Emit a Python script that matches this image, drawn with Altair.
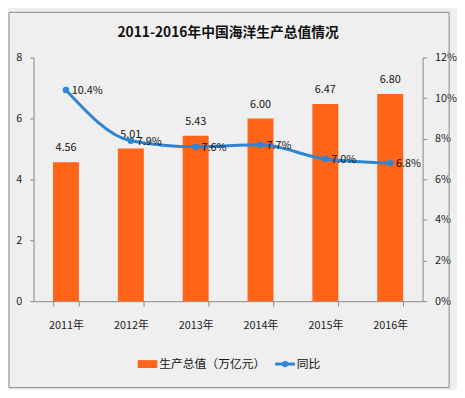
import altair as alt
import pandas as pd

years = ["2011年", "2012年", "2013年", "2014年", "2015年", "2016年"]
output = [4.56, 5.01, 5.43, 6.00, 6.47, 6.80]
growth = [10.4, 7.9, 7.6, 7.7, 7.0, 6.8]
output_labels = ["4.56", "5.01", "5.43", "6.00", "6.47", "6.80"]
growth_labels = ["10.4%", "7.9%", "7.6%", "7.7%", "7.0%", "6.8%"]

df = pd.DataFrame({
    "year": years, "output": output, "growth": growth,
    "olab": output_labels, "glab": growth_labels,
})

FONT = "Noto Sans CJK SC"
ORANGE = "#FF6418"
BLUE = "#2F84D3"
W, H = 396, 248

base = alt.Chart(df)
xenc = alt.X("year:N", sort=years, title=None,
             scale=alt.Scale(paddingInner=0.6, paddingOuter=0.3),
             axis=alt.Axis(labelAngle=0, labelFont=FONT, labelFontSize=11,
                           labelColor="#222", domainColor="#888", tickColor="#888",
                           tickBand="extent", tickSize=5, labelPadding=14))

yL = alt.Y("output:Q", title=None,
           scale=alt.Scale(domain=[0, 8]),
           axis=alt.Axis(values=list(range(0, 9)), grid=False, labelFont=FONT,
                         labelFontSize=11, labelColor="#222", domainColor="#888",
                         tickColor="#888", tickSize=4, labelPadding=8))

bars = base.mark_bar(color=ORANGE).encode(x=xenc, y=yL)
bar_text = base.mark_text(dy=-14, font=FONT, fontSize=11, color="#111").encode(
    x=alt.X("year:N", sort=years), y=alt.Y("output:Q"), text="olab:N")
left = alt.layer(bars, bar_text)

yR = alt.Y("growth:Q", title=None,
           scale=alt.Scale(domain=[0, 12]),
           axis=alt.Axis(orient="right", values=list(range(0, 13, 2)), grid=False,
                         labelExpr="datum.value + '%'", labelFont=FONT,
                         labelFontSize=11, labelColor="#222", domainColor="#888",
                         tickColor="#888", tickSize=4, labelPadding=8))

line = base.mark_line(color=BLUE, strokeWidth=3, interpolate="monotone").encode(
    x=alt.X("year:N", sort=years), y=yR)
pts = base.mark_point(color=BLUE, filled=True, size=45, opacity=1).encode(
    x=alt.X("year:N", sort=years), y=alt.Y("growth:Q"))
line_text = base.mark_text(align="left", dx=6, dy=1, font=FONT, fontSize=11,
                           color="#111").encode(
    x=alt.X("year:N", sort=years), y=alt.Y("growth:Q"), text="glab:N")
right = alt.layer(line, pts, line_text)

# legend and frame (decorations)
one = pd.DataFrame({"a": [0]})
frame = alt.Chart(one).mark_rect(fill=None, stroke="#888", strokeWidth=1).encode(
    x=alt.value(-25), x2=alt.value(423), y=alt.value(-46), y2=alt.value(336))
leg_rect = alt.Chart(one).mark_rect(color=ORANGE).encode(
    x=alt.value(106), x2=alt.value(126), y=alt.value(308), y2=alt.value(316))
leg_t1 = alt.Chart(one).mark_text(align="left", baseline="middle", font=FONT,
                                  fontSize=12, color="#111").encode(
    x=alt.value(128), y=alt.value(312), text=alt.value("生产总值（万亿元）"))
leg_line = alt.Chart(one).mark_rule(color=BLUE, strokeWidth=3).encode(
    x=alt.value(246), x2=alt.value(266), y=alt.value(312))
leg_pt = alt.Chart(one).mark_point(color=BLUE, filled=True, size=40, opacity=1).encode(
    x=alt.value(256), y=alt.value(312))
leg_t2 = alt.Chart(one).mark_text(align="left", baseline="middle", font=FONT,
                                  fontSize=12, color="#111").encode(
    x=alt.value(268), y=alt.value(312), text=alt.value("同比"))

chart = alt.layer(left, right, frame, leg_rect, leg_t1, leg_line, leg_pt, leg_t2).resolve_scale(
    y="independent"
).properties(
    width=W, height=H,
    title=alt.TitleParams("2011-2016年中国海洋生产总值情况", font=FONT, fontSize=14,
                          fontWeight="bold", color="#111", anchor="middle", offset=-29),
    autosize=alt.AutoSizeParams(type="none"),
    padding={"left": 26, "top": 47, "right": 35, "bottom": 87},
    background="#efefef",
).configure_view(stroke=None)

chart.save("out.html", embed_options={"renderer": "svg", "actions": False})
